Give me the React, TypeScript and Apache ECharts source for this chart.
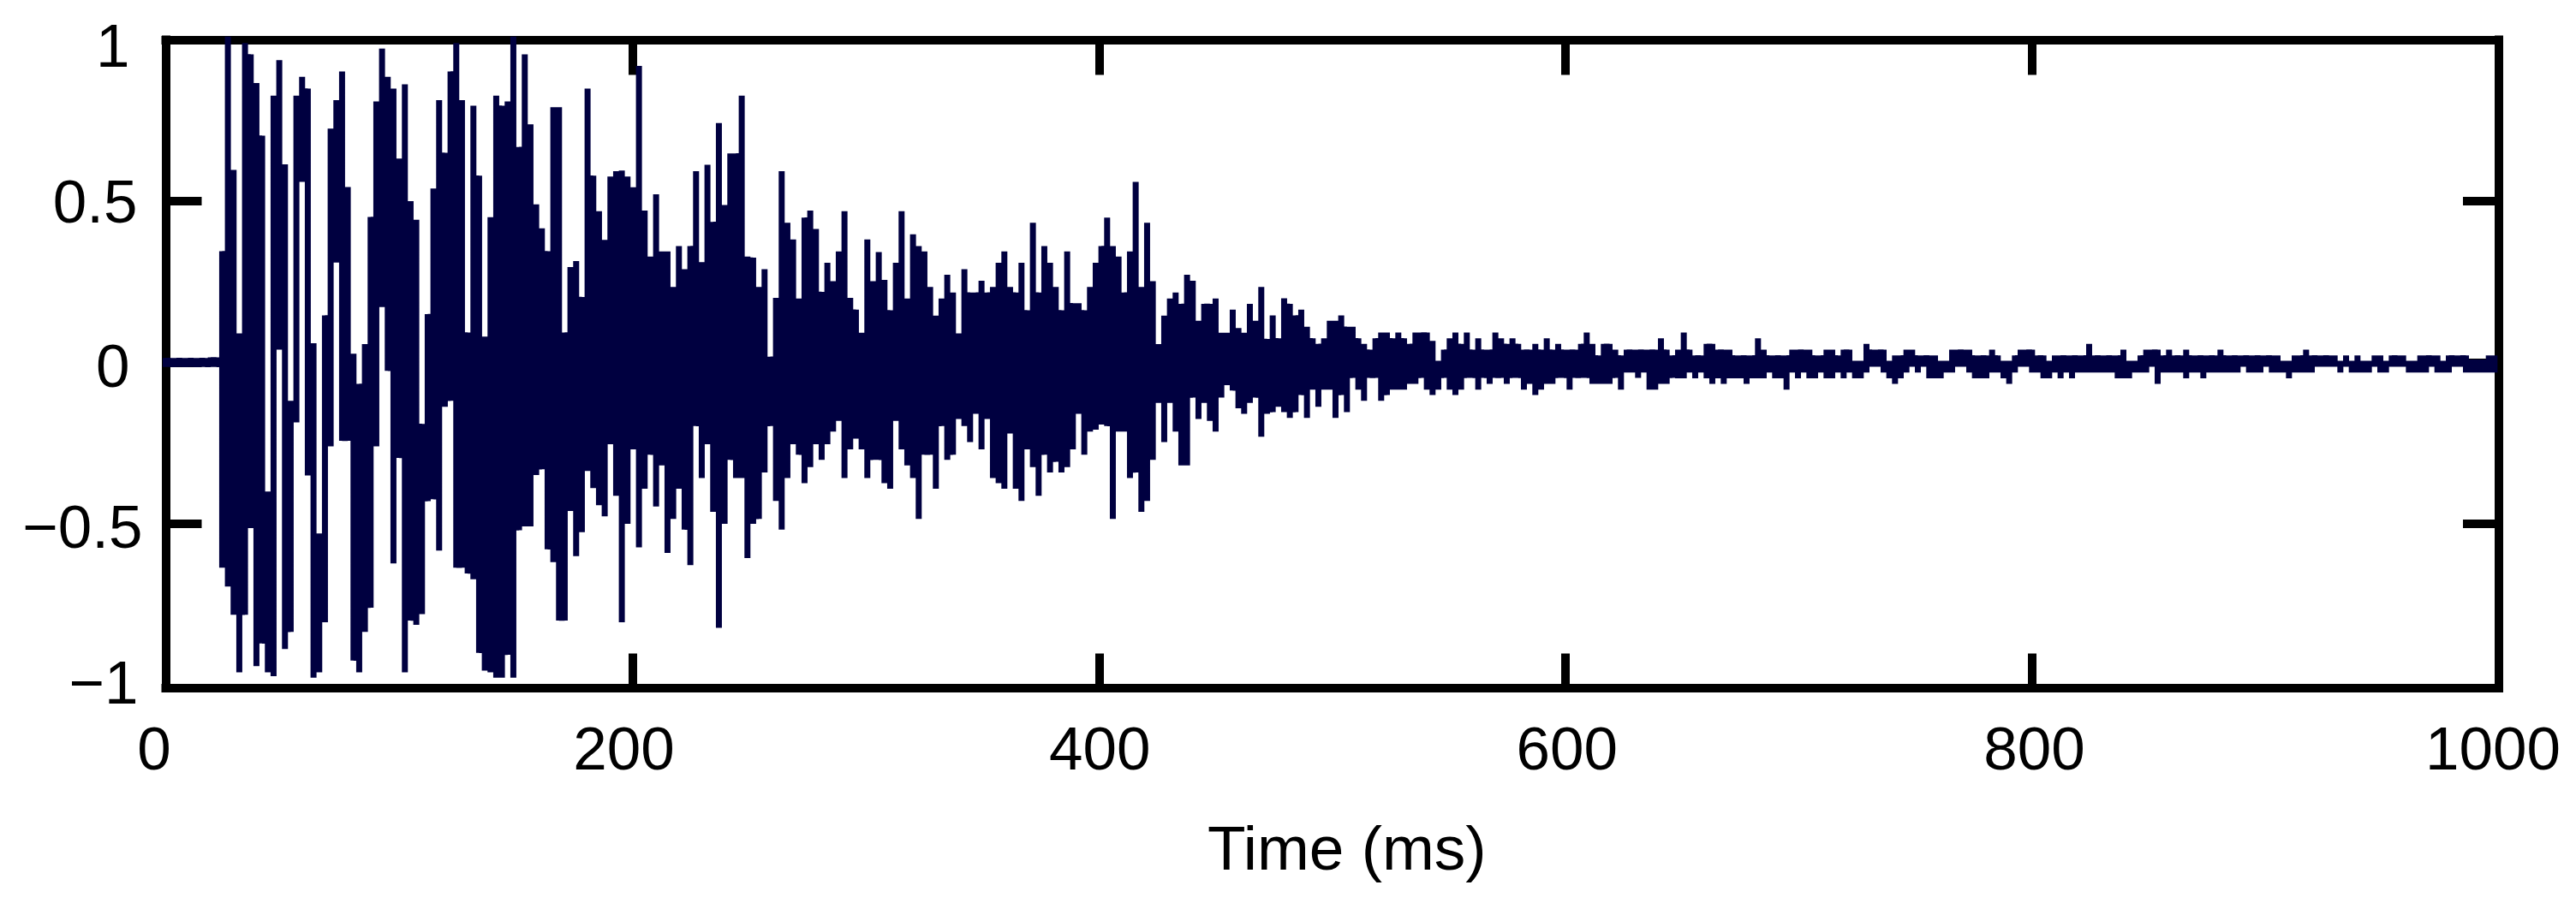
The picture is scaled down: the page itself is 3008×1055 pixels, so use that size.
import React, { useEffect, useRef } from "react";
import * as echarts from "echarts";

const xTicks = [0, 200, 400, 600, 800, 1000];
const yTicks = [-1, -0.5, 0, 0.5, 1];
const xTitle = "Time (ms)";

// One column of the trace every 2.447 ms: its highest and lowest value.
const columnStartMs = 24.2;
const columnStepMs = 2.447;

const leadUpper = [0.014, 0.014, 0.014, 0.014, 0.014, 0.014, 0.014, 0.014, 0.016, 0.016];
const leadLower = [-0.014, -0.014, -0.014, -0.014, -0.014, -0.014, -0.014, -0.014, -0.014, -0.014];

const attackUpper = [
  0.345, 1.01, 0.597, 0.09, 0.99, 0.955, 0.866, 0.703, -0.4, 0.827, 0.937, 0.614, -0.119, 0.827, 0.885, 0.849, 0.06,
  -0.53, 0.146, 0.725, 0.813, 0.902, 0.544, 0.027, -0.066, 0.057, 0.451, 0.809, 0.973, 0.885, 0.849, 0.632, 0.862, 0.5,
  0.442, -0.19, 0.15, 0.539, 0.813, 0.65, 0.902, 0.99, 0.813, 0.093, 0.796, 0.579, 0.08, 0.45, 0.827, 0.796, 0.809,
  1.01, 0.668, 0.955, 0.738, 0.49, 0.416, 0.345, 0.791, 0.791, 0.093, 0.296, 0.314, 0.203, 0.849, 0.579, 0.469, 0.38,
];
const attackLower = [
  -0.636, -0.694, -0.782, -0.96, -0.782, -0.513, -0.941, -0.871, -0.96, -0.972, 0.04, -0.888, -0.835, -0.186, 0.56,
  -0.35, -0.977, -0.96, -0.805, -0.26, 0.31, -0.243, -0.243, -0.924, -0.96, -0.835, -0.76, -0.26, 0.172, -0.026, -0.623,
  -0.296, -0.96, -0.8, -0.813, -0.78, -0.43, -0.424, -0.583, -0.137, -0.119, -0.636, -0.636, -0.654, -0.672, -0.9,
  -0.955, -0.96, -0.977, -0.977, -0.906, -0.977, -0.52, -0.508, -0.508, -0.349, -0.331, -0.579, -0.619, -0.8, -0.8,
  -0.46, -0.6, -0.526, -0.336, -0.389, -0.442, -0.477,
];
const decayUpper = [
  0.576, 0.593, 0.595, 0.576, 0.543, 0.919, 0.471, 0.328, 0.521, 0.344, 0.344, 0.234, 0.361, 0.289, 0.361, 0.593,
  0.311, 0.613, 0.436, 0.742, 0.488, 0.648, 0.648, 0.827, 0.328, 0.325, 0.234, 0.289, 0.018, 0.2, 0.593, 0.433, 0.381,
  0.198, 0.449, 0.471, 0.414, 0.219, 0.309, 0.252, 0.344, 0.469, 0.2, 0.164, 0.092, 0.381, 0.252, 0.342, 0.256, 0.162,
  0.309, 0.469, 0.198, 0.397, 0.361, 0.344, 0.234, 0.145, 0.198, 0.272, 0.217, 0.09, 0.289, 0.217, 0.217, 0.253, 0.217,
  0.234, 0.309, 0.344, 0.234, 0.217, 0.309, 0.162, 0.433, 0.217, 0.361, 0.309, 0.234, 0.162, 0.344, 0.184, 0.184,
  0.162, 0.234, 0.309, 0.361, 0.449, 0.361, 0.328, 0.217, 0.344, 0.56, 0.234, 0.433, 0.252, 0.057, 0.145, 0.198, 0.217,
  0.182, 0.272, 0.253, 0.129, 0.182, 0.182, 0.198, 0.092, 0.092, 0.164, 0.107, 0.092, 0.182, 0.129, 0.234, 0.073,
];
const decayLower = [
  -0.253, -0.413, -0.805, -0.5, -0.269, -0.573, -0.391, -0.286, -0.446, -0.319, -0.59, -0.485, -0.391, -0.518, -0.628,
  -0.197, -0.358, -0.253, -0.463, -0.822, -0.5, -0.302, -0.358, -0.358, -0.606, -0.5, -0.485, -0.341, -0.197, -0.429,
  -0.518, -0.358, -0.253, -0.286, -0.374, -0.324, -0.253, -0.302, -0.253, -0.214, -0.181, -0.358, -0.269, -0.236,
  -0.269, -0.358, -0.302, -0.302, -0.374, -0.391, -0.181, -0.269, -0.319, -0.358, -0.485, -0.286, -0.286, -0.391,
  -0.197, -0.302, -0.286, -0.175, -0.197, -0.247, -0.159, -0.269, -0.175, -0.358, -0.374, -0.391, -0.22, -0.391,
  -0.429, -0.269, -0.324, -0.413, -0.286, -0.341, -0.308, -0.341, -0.324, -0.269, -0.159, -0.286, -0.214, -0.208,
  -0.192, -0.197, -0.485, -0.214, -0.214, -0.358, -0.341, -0.463, -0.429, -0.302, -0.125, -0.247, -0.125, -0.214,
  -0.319, -0.319, -0.109, -0.175, -0.125, -0.181, -0.214, -0.109, -0.07, -0.087, -0.142, -0.159, -0.125, -0.109, -0.23,
  -0.159,
];
const fadeUpper = [
  0.146, 0.075, 0.199, 0.182, 0.146, 0.164, 0.111, 0.075, 0.058, 0.075, 0.129, 0.129, 0.146, 0.111, 0.111, 0.075, 0.058,
  0.04, 0.075, 0.093, 0.093, 0.075, 0.093, 0.075, 0.058, 0.093, 0.093, 0.093, 0.067, 0.005, 0.04, 0.075, 0.093, 0.058,
  0.093, 0.04, 0.075, 0.04, 0.04, 0.093, 0.075, 0.058, 0.075, 0.058, 0.04, 0.04, 0.058, 0.04, 0.075, 0.04, 0.058, 0.04,
  0.04, 0.04, 0.058, 0.093, 0.058, 0.022, 0.058, 0.058, 0.04, 0.022, 0.04, 0.04, 0.04, 0.04, 0.04, 0.04, 0.075, 0.04,
  0.022, 0.04, 0.093,
];
const fadeLower = [
  -0.154, -0.137, -0.154, -0.172, -0.154, -0.101, -0.172, -0.084, -0.137, -0.084, -0.084, -0.172, -0.101, -0.154, -0.048,
  -0.084, -0.119, -0.048, -0.048, -0.119, -0.101, -0.084, -0.084, -0.084, -0.066, -0.066, -0.048, -0.084, -0.101, -0.084,
  -0.048, -0.084, -0.101, -0.084, -0.048, -0.048, -0.084, -0.048, -0.066, -0.048, -0.048, -0.066, -0.048, -0.048, -0.084,
  -0.066, -0.101, -0.084, -0.066, -0.066, -0.048, -0.048, -0.084, -0.048, -0.048, -0.048, -0.066, -0.066, -0.066, -0.066,
  -0.048, -0.084, -0.031, -0.031, -0.048, -0.031, -0.084, -0.084, -0.066, -0.066, -0.048, -0.049, -0.049,
];
const tailUpper = [
  0.04, 0.022, 0.022, 0.058, 0.058, 0.04, 0.04, 0.04, 0.022, 0.022, 0.022, 0.022, 0.075, 0.04, 0.022, 0.022, 0.022, 0.022,
  0.04, 0.04, 0.04, 0.04, 0.022, 0.022, 0.04, 0.04, 0.022, 0.04, 0.04, 0.005, 0.005, 0.058, 0.04, 0.04, 0.04, 0.005,
  0.022, 0.022, 0.04, 0.04, 0.022, 0.022, 0.022, 0.022, 0.005, 0.005, 0.04, 0.04, 0.04, 0.04, 0.022, 0.022, 0.022, 0.04,
  0.022, 0.005, 0.005, 0.022, 0.04, 0.04, 0.04, 0.022, 0.022, 0.005, 0.022, 0.022, 0.022, 0.022, 0.022, 0.022, 0.058,
  0.022, 0.022, 0.022, 0.022, 0.022, 0.04, 0.005, 0.005, 0.022, 0.04, 0.04, 0.04, 0.022, 0.04, 0.022, 0.022, 0.04,
  0.022, 0.022, 0.022, 0.022, 0.022, 0.04, 0.022, 0.022, 0.022, 0.022, 0.022, 0.022, 0.022, 0.022, 0.022, 0.022, 0.005,
  0.005, 0.022, 0.022, 0.04, 0.022, 0.022, 0.022, 0.022, 0.022, 0.005, 0.022, 0.005, 0.022, 0.005, 0.005, 0.022, 0.022,
  0.005, 0.022, 0.022, 0.022, 0.005, 0.005, 0.022, 0.022, 0.022, 0.022, 0.005, 0.022, 0.022, 0.022, 0.022, 0.009, 0.009,
  0.009, 0.022, 0.022,
];
const tailLower = [
  -0.031, -0.049, -0.031, -0.049, -0.066, -0.049, -0.066, -0.049, -0.049, -0.049, -0.066, -0.049, -0.049, -0.049, -0.031,
  -0.049, -0.049, -0.084, -0.031, -0.049, -0.031, -0.049, -0.049, -0.031, -0.049, -0.049, -0.031, -0.049, -0.031, -0.049,
  -0.049, -0.031, -0.013, -0.013, -0.031, -0.049, -0.066, -0.049, -0.031, -0.013, -0.031, -0.013, -0.049, -0.049, -0.049,
  -0.031, -0.031, -0.013, -0.013, -0.031, -0.049, -0.049, -0.049, -0.031, -0.031, -0.049, -0.066, -0.031, -0.013, -0.013,
  -0.031, -0.031, -0.049, -0.049, -0.031, -0.049, -0.031, -0.049, -0.031, -0.031, -0.031, -0.031, -0.031, -0.031, -0.031,
  -0.049, -0.049, -0.049, -0.031, -0.031, -0.031, -0.013, -0.066, -0.031, -0.031, -0.031, -0.031, -0.049, -0.031, -0.031,
  -0.049, -0.031, -0.031, -0.031, -0.031, -0.031, -0.031, -0.013, -0.031, -0.031, -0.031, -0.013, -0.031, -0.031, -0.031,
  -0.049, -0.031, -0.031, -0.031, -0.031, -0.013, -0.013, -0.013, -0.013, -0.031, -0.013, -0.031, -0.031, -0.031, -0.031,
  -0.013, -0.031, -0.031, -0.013, -0.013, -0.013, -0.031, -0.031, -0.031, -0.031, -0.013, -0.031, -0.031, -0.031, -0.013,
  -0.013, -0.031, -0.031, -0.031, -0.031, -0.031, -0.031,
];

const upper = [...leadUpper, ...attackUpper, ...decayUpper, ...fadeUpper, ...tailUpper];
const lower = [...leadLower, ...attackLower, ...decayLower, ...fadeLower, ...tailLower];

const INK = "#000040";
const FONT = '"Liberation Sans", Arial, sans-serif';
const LABEL_SIZE = 71;

const labelText = { color: "#000", fontFamily: FONT, fontSize: LABEL_SIZE };

function tracePoints(): number[][] {
  const pts: number[][] = [];
  const n = Math.min(upper.length, lower.length);
  const first = columnStartMs - leadUpper.length * columnStepMs;
  const inset = 0.009;
  for (let i = 0; i < n; i++) {
    const t = first + i * columnStepMs;
    const rising = i % 2 === 0;
    pts.push([t, rising ? lower[i] : upper[i]], [t, rising ? upper[i] : lower[i]]);
    if (i + 1 < n) {
      const join = rising
        ? Math.min(upper[i], upper[i + 1]) - inset
        : Math.max(lower[i], lower[i + 1]) + inset;
      pts.push([t, join], [t + columnStepMs, join]);
    }
  }
  return pts;
}

export default function App() {
  const ref = useRef<HTMLDivElement>(null);
  useEffect(() => {
    const chart = echarts.init(ref.current!, null, { renderer: "svg" });
    const frame = { show: true, onZero: false, lineStyle: { color: "#000", width: 10, cap: "square" as const } };
    const tick = (length: number) => ({ show: true, inside: true, length, lineStyle: { color: "#000", width: 10 } });
    const yTickMarks = yTicks.filter((v) => v > -1);
    chart.setOption({
      animation: false,
      backgroundColor: "#fff",
      grid: { left: 193.5, right: 3008 - 2918, top: 46.5, height: 754, containLabel: false },
      xAxis: [
        {
          type: "value",
          position: "bottom",
          min: 0,
          max: 1000,
          interval: 200,
          offset: 3,
          axisLine: frame,
          axisTick: tick(40),
          splitLine: { show: false },
          axisLabel: {
            ...labelText,
            margin: 35,
            formatter: (v: number) => (xTicks.includes(v) ? `{x${v}|${v}}` : ""),
            rich: {
              x0: { ...labelText, padding: [0, 27, 0, 0] },
              x200: { ...labelText, padding: [0, 20, 0, 0] },
              x400: { ...labelText, padding: [0, 0, 0, 2] },
              x600: { ...labelText, padding: [0, 0, 0, 3] },
              x800: { ...labelText, padding: [0, 0, 0, 5] },
              x1000: { ...labelText, padding: [0, 14, 0, 0] },
            },
          },
          name: xTitle,
          nameLocation: "middle",
          nameGap: 150,
          nameTextStyle: { color: "#000", fontFamily: FONT, fontSize: 73, padding: [0, 0, 0, 34] },
        },
        {
          type: "value",
          position: "top",
          min: 0,
          max: 1000,
          interval: 200,
          axisLine: frame,
          axisTick: tick(41),
          axisLabel: { show: false },
          splitLine: { show: false },
        },
      ],
      yAxis: [
        {
          type: "value",
          position: "left",
          min: -1,
          max: 1,
          interval: 0.5,
          axisLine: frame,
          axisTick: { ...tick(42), customValues: yTickMarks },
          splitLine: { show: false },
          axisLabel: {
            ...labelText,
            margin: 27,
            formatter: (v: number) => {
              if (!yTicks.includes(v)) return "";
              const key = "y" + yTicks.indexOf(v);
              return `{${key}|${String(v).replace("-", "\u2212")}}`;
            },
            rich: {
              y0: { ...labelText, padding: [0, 5, 6, 0] },
              y1: { ...labelText, padding: [6, 0, 0, 0] },
              y2: { ...labelText, padding: [7, 15, 0, 0] },
              y3: { ...labelText, padding: [0, 6, 0, 0] },
              y4: { ...labelText, padding: [13, 15, 0, 0] },
            },
          },
        },
        {
          type: "value",
          position: "right",
          min: -1,
          max: 1,
          interval: 0.5,
          axisLine: frame,
          axisTick: { ...tick(42), customValues: yTickMarks },
          axisLabel: { show: false },
          splitLine: { show: false },
        },
      ],
      series: [
        {
          type: "line",
          data: tracePoints(),
          showSymbol: false,
          symbol: "none",
          silent: true,
          clip: false,
          z: 5,
          lineStyle: { color: INK, width: 7, cap: "butt", join: "miter" },
        },
      ],
    });
    return () => chart.dispose();
  }, []);
  return <div ref={ref} style={{ position: "absolute", left: 0, top: 0, width: 3008, height: 1055, background: "#fff" }} />;
}
